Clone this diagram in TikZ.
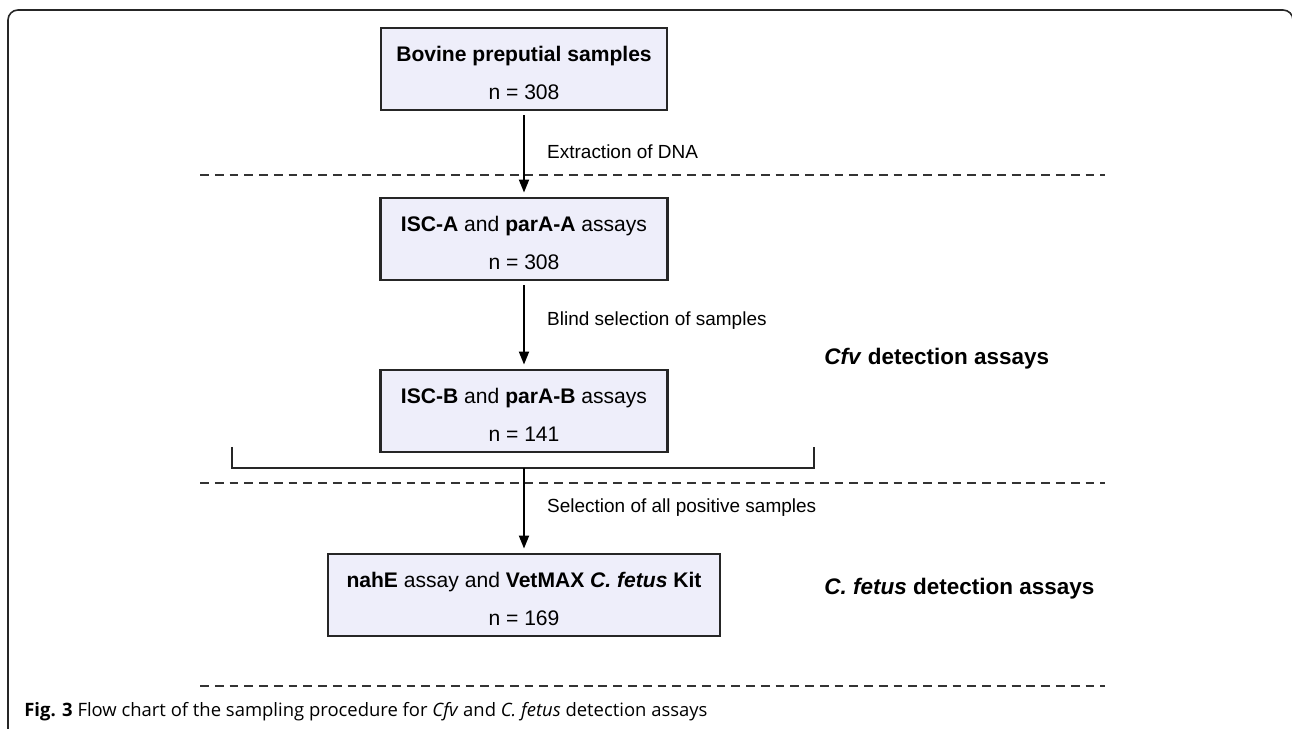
\documentclass[tikz,border=0pt]{standalone}
\usepackage{fontspec}
\setmainfont{Liberation Sans}
\newfontfamily\captionfont{Open Sans}
\usetikzlibrary{arrows.meta}
\definecolor{boxfill}{RGB}{238,238,250}
\colorlet{inkline}{black!85}
\newcommand{\toppad}{\rule{0pt}{13pt}}

\begin{document}
\begin{tikzpicture}[x=0.02cm, y=-0.02cm,
  stagebox/.style={draw=inkline, line width=1.2pt, fill=boxfill, minimum height=1.64cm, align=center, inner sep=0pt, font=\fontsize{12}{14}\selectfont},
  steplabel/.style={anchor=west, font=\fontsize{10.8}{13}\selectfont},
  grouplabel/.style={anchor=west, inner sep=0pt, font=\fontsize{12.8}{15}\selectfont\bfseries},
  flow/.style={draw=black, line width=1.1pt, -{Triangle[length=2.6mm,width=2mm]}, shorten >=2.5pt, shorten <=2.5pt},
  divider/.style={black!80, line width=1.1pt, dash pattern=on 5pt off 3.4pt},
  bracketline/.style={inkline, line width=1.1pt}]
  \useasboundingbox (0,0) rectangle (1292,729);
  % outer frame
  \draw[inkline, line width=0.9pt, rounded corners=0.2cm] (8,740) -- (8,10) -- (1293,10) -- (1293,740);

  % boxes
  \node[stagebox, minimum width=5.72cm] (bovine) at (524,69) {\toppad\textbf{Bovine preputial samples}\\[7.5pt] n = 308};
  \node[stagebox, minimum width=5.74cm] (isca) at (524,239) {\toppad\textbf{ISC-A} and \textbf{parA-A} assays\\[7.5pt] n = 308};
  \node[stagebox, minimum width=5.74cm] (iscb) at (524,411) {\toppad\textbf{ISC-B} and \textbf{parA-B} assays\\[7.5pt] n = 141};
  \node[stagebox, minimum width=7.84cm] (nahe) at (524,595) {\toppad\textbf{nahE} assay and \textbf{VetMAX \textit{C. fetus} Kit}\\[7.5pt] n = 169};

  % bracket under the Cfv assays
  \coordinate (brl) at (232,447);
  \coordinate (brr) at (814,447);
  \coordinate (brm) at (524,468);
  \draw[bracketline] (brl) |- (brm) -| (brr);

  % arrows
  \draw[flow] (bovine) -- (isca);
  \draw[flow] (isca) -- (iscb);
  \draw[flow, shorten <=0pt] (brm) -- (nahe);

  % step labels
  \node[steplabel] (extract) at (541,152) {Extraction of DNA};
  \node[steplabel] (blind) at (541,321) {Blind selection of samples};
  \node[steplabel] (positive) at (541,508) {Selection of all positive samples};

  % group labels
  \node[grouplabel] (cfvgroup) at (824,359) {\textit{Cfv} detection assays};
  \node[grouplabel] (fetusgroup) at (824,589) {\textit{C. fetus} detection assays};

  % dashed dividers
  \draw[divider] (200,175) -- (1105,175);
  \draw[divider] (200,483) -- (1105,483);
  \draw[divider] (200,686) -- (1105,686);

  \node[anchor=west, inner sep=0pt, font=\captionfont\fontsize{10.5}{12}\selectfont] (caption) at (24,712) {\textbf{Fig. 3} Flow chart of the sampling procedure for \textit{Cfv} and \textit{C. fetus} detection assays};
\end{tikzpicture}
\end{document}
